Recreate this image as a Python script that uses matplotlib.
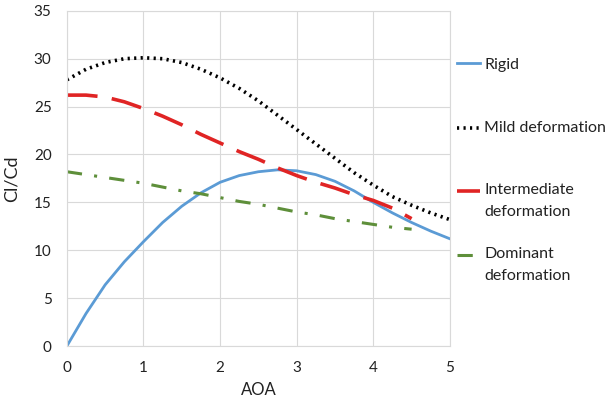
import matplotlib
matplotlib.use("Agg")
import matplotlib.pyplot as plt
from matplotlib.lines import Line2D

plt.rcParams['font.family'] = ['Lato', 'DejaVu Sans']

aoa = [0, 0.25, 0.5, 0.75, 1, 1.25, 1.5, 1.75, 2, 2.25, 2.5, 2.75, 3, 3.25, 3.5, 3.75, 4, 4.25, 4.5, 4.75, 5]
rigid = [0, 3.4, 6.4, 8.8, 10.9, 12.9, 14.6, 16.0, 17.1, 17.8, 18.2, 18.4, 18.3, 17.9, 17.2, 16.2, 15.0, 13.9, 12.9, 12.0, 11.2]
mild = [27.8, 28.9, 29.6, 30.0, 30.1, 30.0, 29.6, 28.9, 28.0, 26.9, 25.6, 24.1, 22.6, 21.1, 19.6, 18.1, 16.8, 15.6, 14.7, 13.9, 13.2]
aoa_short = [0, 0.25, 0.5, 0.75, 1, 1.25, 1.5, 1.75, 2, 2.25, 2.5, 2.75, 3, 3.25, 3.5, 3.75, 4, 4.25, 4.5]
intermediate = [26.2, 26.2, 26.0, 25.5, 24.8, 24.0, 23.1, 22.1, 21.2, 20.3, 19.5, 18.6, 17.8, 17.1, 16.5, 15.8, 15.2, 14.4, 13.3]
dominant = [18.2, 17.9, 17.6, 17.3, 17.0, 16.6, 16.2, 15.9, 15.5, 15.1, 14.8, 14.4, 14.0, 13.7, 13.3, 13.0, 12.7, 12.4, 12.2]

labels = ['Rigid', 'Mild deformation', 'Intermediate\ndeformation', 'Dominant\ndeformation']
colors = ['#5B9BD5', 'black', '#E02424', '#5E8F3A']
styles = ['-', (0, (0.6, 1.2)), (0, (8.5, 4)), (0, (5, 4, 1, 4))]
widths = [2.0, 2.6, 2.6, 2.2]

W, H = 608, 401
fig = plt.figure(figsize=(W / 100, H / 100), dpi=100)
ax = fig.add_axes([0.110, 0.137, 0.630, 0.836])

series_x = [aoa, aoa, aoa_short, aoa_short]
series_y = [rigid, mild, intermediate, dominant]
for xs, ys, c, ls, lw, lab in zip(series_x, series_y, colors, styles, widths, labels):
    ax.plot(xs, ys, color=c, lw=lw, linestyle=ls, label=lab)

ax.set_xlim(0, 5)
ax.set_ylim(0, 35)
ax.set_xticks(range(0, 6))
ax.set_yticks(range(0, 36, 5))
ax.grid(True, color='#d9d9d9', lw=0.8)
ax.set_axisbelow(True)
for s in ax.spines.values():
    s.set_color('#d9d9d9')
ax.tick_params(length=0, labelsize=11, colors='#222222', pad=11)
ax.set_xlabel('AOA', fontsize=12, color='#222222', labelpad=5)
ax.set_ylabel('Cl/Cd', fontsize=13, color='#222222', labelpad=10)

# custom legend (positions in pixels from top-left)
handle_y = [63, 128, 191, 255]
text_y = [65, 128, 201, 265]
for hy, ty, c, ls, lw, lab in zip(handle_y, text_y, colors, styles, widths, labels):
    line = Line2D([457 / W, 480 / W], [1 - hy / H, 1 - hy / H], transform=fig.transFigure,
                  color=c, lw=lw, linestyle=ls)
    fig.add_artist(line)
    fig.text(484 / W, 1 - ty / H, lab, ha='left', va='center',
             fontsize=11.5, color='#222222', linespacing=1.75)

fig.savefig('out.png', dpi=100)
